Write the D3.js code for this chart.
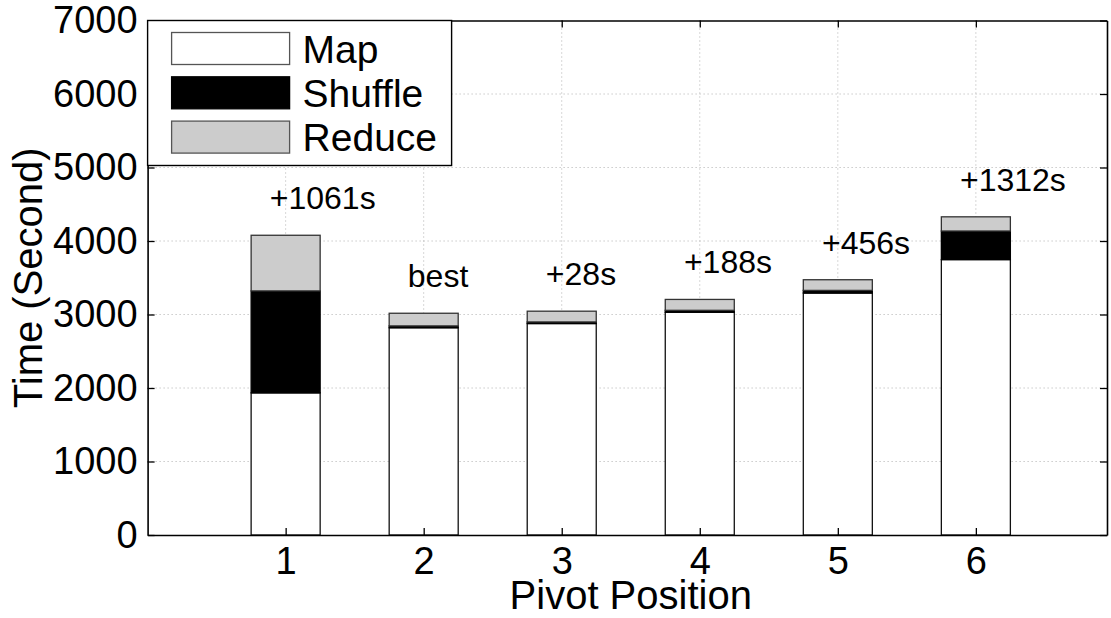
<!DOCTYPE html>
<html>
<head>
<meta charset="utf-8">
<script src="https://cdn.jsdelivr.net/npm/d3@7"></script>
<style>
  body { margin: 0; background: #fff; }
  svg { display: block; font-family: "Liberation Sans", Arial, Helvetica, sans-serif; }
</style>
</head>
<body>
<div id="graphic"></div>
<script>
// Données
const positions = [1, 2, 3, 4, 5, 6];
const mapTimes = [1934, 2820, 2877, 3030, 3292, 3747];
const shuffleTimes = [1387, 25, 22, 27, 36, 389];
const reduceTimes = [757, 172, 146, 148, 145, 193];
const gapLabels = ["+1061s", "best", "+28s", "+188s", "+456s", "+1312s"];
const yTicks = [0, 1000, 2000, 3000, 4000, 5000, 6000, 7000];
const phases = ["Map", "Shuffle", "Reduce"];

const width = 1111, height = 618;
const plotL = 147.6, plotR = 1107, plotT = 20.5, plotB = 535;

const svg = d3.select("#graphic")
  .append("svg")
  .attr("width", width)
  .attr("height", height);

const x = d3.scaleLinear().domain([0, 6.95]).range([plotL, plotR]);
const y = d3.scaleLinear().domain([0, 7000]).range([plotB, plotT]);

const fills = { Map: "#ffffff", Shuffle: "#000000", Reduce: "#cccccc" };
const strokes = { Map: "#111", Shuffle: "#000", Reduce: "#333" };

// table pour d3.stack
const rows = positions.map((p, i) => ({
  pos: p, Map: mapTimes[i], Shuffle: shuffleTimes[i], Reduce: reduceTimes[i]
}));
const stacked = d3.stack().keys(phases)(rows);

// grille pointillée
const grid = svg.append("g").attr("stroke", "#b0b0b0").attr("stroke-dasharray", "1,3").attr("stroke-width", 1);
grid.selectAll(".hg").data(yTicks.slice(1, -1)).enter()
  .append("line")
  .attr("x1", plotL).attr("x2", plotR)
  .attr("y1", d => y(d)).attr("y2", d => y(d));
grid.selectAll(".vg").data(positions).enter()
  .append("line")
  .attr("x1", d => x(d)).attr("x2", d => x(d))
  .attr("y1", plotT).attr("y2", plotB);

// barres empilées
const barW = x(0.5) - x(0);
svg.append("g").selectAll("g")
  .data(stacked)
  .enter().append("g")
    .attr("fill", d => fills[d.key])
    .attr("stroke", d => strokes[d.key])
    .attr("stroke-width", 1.3)
  .selectAll("rect")
  .data(d => d)
  .enter().append("rect")
    .attr("x", d => x(d.data.pos) - barW / 2)
    .attr("width", barW)
    .attr("y", d => y(d[1]))
    .attr("height", d => y(d[0]) - y(d[1]));

// étiquettes au-dessus des barres
const totals = rows.map(r => r.Map + r.Shuffle + r.Reduce);
svg.append("g").selectAll("text")
  .data(gapLabels)
  .enter().append("text")
    .attr("x", (d, i) => x(positions[i] - 0.115))
    .attr("y", (d, i) => y(totals[i] + 355))
    .attr("font-size", 32)
    .attr("fill", "#000")
    .text(d => d);

// axes (ticks vers l'intérieur, comme MATLAB)
const tickLen = 7;
const yAxis = d3.axisLeft(y).tickValues(yTicks).tickFormat(d3.format("d"))
  .tickSizeInner(-tickLen).tickSizeOuter(0).tickPadding(10);
const xAxis = d3.axisBottom(x).tickValues(positions).tickFormat(d3.format("d"))
  .tickSizeInner(-tickLen).tickSizeOuter(0).tickPadding(12);

svg.append("g")
  .attr("transform", `translate(${plotL},0)`)
  .call(yAxis)
  .call(g => g.selectAll("text").attr("font-size", 38).attr("fill", "#000"));

svg.append("g")
  .attr("transform", `translate(0,${plotB})`)
  .call(xAxis)
  .call(g => g.selectAll("text").attr("font-size", 38).attr("fill", "#000"));

svg.append("g")
  .attr("transform", `translate(${plotR},0)`)
  .call(d3.axisRight(y).tickValues(yTicks).tickSizeInner(-tickLen).tickSizeOuter(0).tickFormat(""));

svg.append("g")
  .attr("transform", `translate(0,${plotT})`)
  .call(d3.axisTop(x).tickValues(positions).tickSizeInner(-tickLen).tickSizeOuter(0).tickFormat(""));

svg.selectAll(".domain").attr("stroke", "#000").attr("stroke-width", 1.6);
svg.selectAll(".tick line").attr("stroke", "#000").attr("stroke-width", 1.3);

// titres des axes
svg.append("text")
  .attr("x", x(3.5))
  .attr("y", 609)
  .attr("text-anchor", "middle")
  .attr("font-size", 40)
  .text("Pivot Position");

svg.append("text")
  .attr("transform", `translate(42,${(plotT + plotB) / 2}) rotate(-90)`)
  .attr("text-anchor", "middle")
  .attr("font-size", 40)
  .text("Time (Second)");

// légende
const legend = svg.append("g");
legend.append("rect")
  .attr("x", plotL).attr("y", plotT)
  .attr("width", 304).attr("height", 145)
  .attr("fill", "#fff").attr("stroke", "#000").attr("stroke-width", 1.4);

const items = legend.selectAll(".item")
  .data(phases)
  .enter().append("g")
    .attr("transform", (d, i) => `translate(${plotL + 24},${plotT + 12 + i * 44.3})`);
items.append("rect")
  .attr("width", 118).attr("height", 32)
  .attr("fill", d => fills[d])
  .attr("stroke", d => d === "Shuffle" ? "#000" : "#555")
  .attr("stroke-width", 1.3);
items.append("text")
  .attr("x", 131).attr("y", 30)
  .attr("font-size", 39)
  .text(d => d);
</script>
</body>
</html>
